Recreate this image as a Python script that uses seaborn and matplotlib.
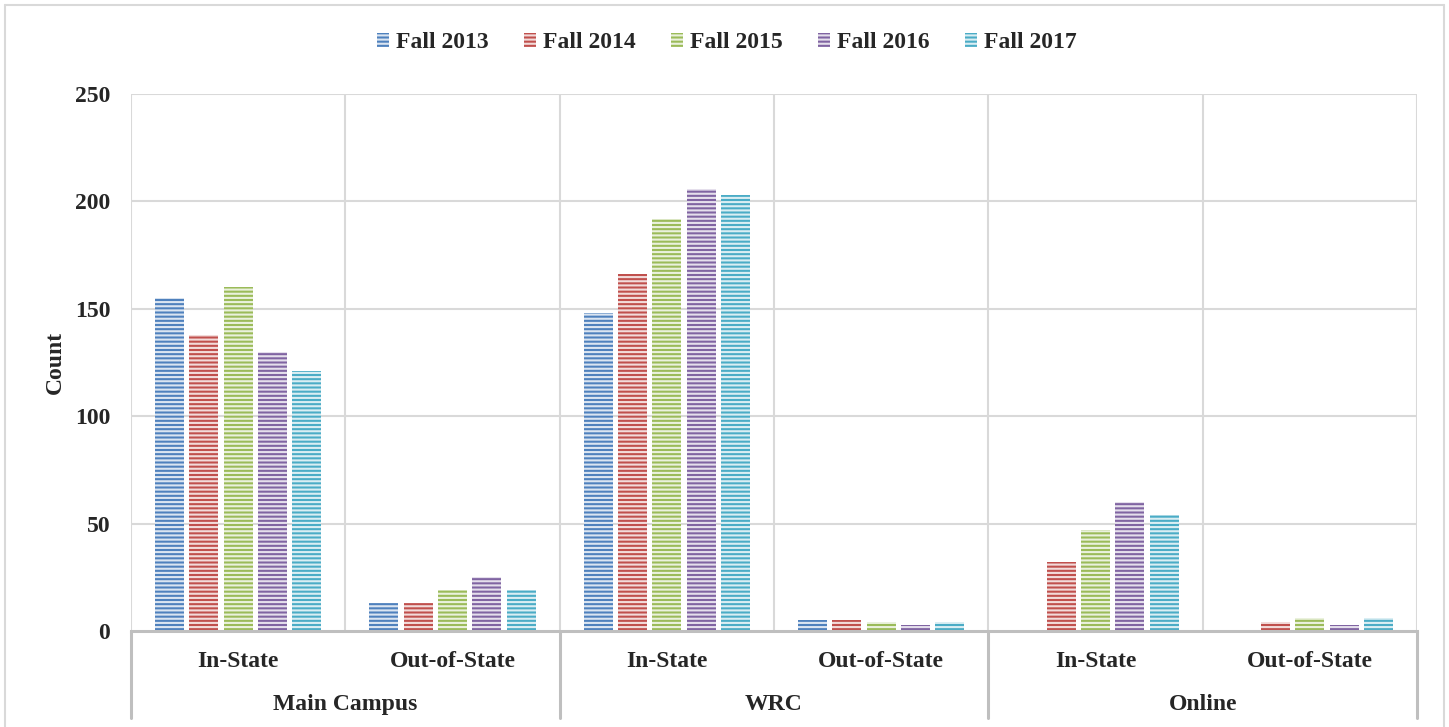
import numpy as np
import pandas as pd
import seaborn as sns
import matplotlib.pyplot as plt
from matplotlib.patches import Patch
from matplotlib.lines import Line2D
import matplotlib.transforms as mtransforms

# Enrollment counts by campus / residency and fall term
campuses = ["Main Campus", "WRC", "Online"]
residency = ["In-State", "Out-of-State"]
years = ["Fall 2013", "Fall 2014", "Fall 2015", "Fall 2016", "Fall 2017"]

main_in = [155, 138, 160, 130, 121]
main_out = [13, 13, 19, 25, 19]
wrc_in = [148, 166, 192, 206, 203]
wrc_out = [5, 5, 4, 3, 4]
online_in = [0, 32, 47, 60, 54]
online_out = [0, 4, 6, 3, 6]

yticks = [0, 50, 100, 150, 200, 250]
colors = ["#4F81BD", "#C0504D", "#9BBB59", "#8064A2", "#4BACC6"]

series = [main_in, main_out, wrc_in, wrc_out, online_in, online_out]
cat_labels = [f"{c}|{r}" for c in campuses for r in residency]
rows = []
for lab, vals in zip(cat_labels, series):
    for yr, v in zip(years, vals):
        rows.append({"cat": lab, "year": yr, "count": v})
df = pd.DataFrame(rows)

sns.set_theme(style="white")
plt.rcParams["font.family"] = ["Liberation Serif", "DejaVu Serif"]
plt.rcParams["font.weight"] = "bold"
plt.rcParams["hatch.linewidth"] = 1.5

FS = 17

fig = plt.figure(figsize=(14.49, 7.27), dpi=100)
ax = fig.add_axes([131 / 1449, 1 - 631 / 727, (1417 - 131) / 1449, (631 - 94) / 727])

sns.barplot(data=df, x="cat", y="count", hue="year", order=cat_labels,
            hue_order=years, palette=colors, saturation=1, width=0.8, gap=0.15,
            legend=False, ax=ax, zorder=3)

for p in ax.patches:
    p.set_hatch("----")
    p.set_edgecolor((1, 1, 1, 0.8))
    p.set_linewidth(0)

ax.set_ylim(0, 250)
ax.set_xlim(-0.5, len(cat_labels) - 0.5)
ax.set_yticks(yticks)
ax.set_yticklabels([str(t) for t in yticks], fontsize=FS, fontweight="bold")
ax.tick_params(axis="y", length=0, pad=15)
ax.set_xticks([])
ax.set_xlabel("")
ax.set_ylabel("Count", fontsize=FS, fontweight="bold", labelpad=6)

# horizontal and category-boundary gridlines
for t in yticks[1:]:
    ax.axhline(t, color="#d9d9d9", lw=1.5, zorder=1)
for xb in np.arange(-0.5, len(cat_labels), 1.0):
    ax.axvline(xb, color="#d9d9d9", lw=1.5, zorder=1)

for s in ["top", "right", "left"]:
    ax.spines[s].set_visible(False)
ax.spines["bottom"].set_color("#bfbfbf")
ax.spines["bottom"].set_linewidth(2.2)
ax.spines["bottom"].set_zorder(4)

# two-level category axis
trans = mtransforms.blended_transform_factory(ax.transData, ax.transAxes)
for i, lab in enumerate(cat_labels):
    ax.text(i, -0.057, lab.split("|")[1], transform=trans, ha="center", va="center",
            fontsize=FS, fontweight="bold")
for j, c in enumerate(campuses):
    ax.text(2 * j + 0.5, -0.137, c, transform=trans, ha="center", va="center",
            fontsize=FS, fontweight="bold")
for xb in [-0.5, 1.5, 3.5, 5.5]:
    ax.add_line(Line2D([xb, xb], [0, -0.162], transform=trans, color="#bfbfbf",
                       lw=2.2, clip_on=False))

# legend with striped square keys
handles = [Patch(facecolor=c, edgecolor=(1, 1, 1, 0.8), hatch="----", linewidth=0)
           for c in colors]
fig.legend(handles, years, loc="center", bbox_to_anchor=(727 / 1449, 1 - 43 / 727),
           ncol=5, frameon=False, handlelength=0.5, handleheight=0.55,
           handletextpad=0.3, columnspacing=1.5,
           prop={"family": "Liberation Serif", "weight": "bold", "size": FS})

# outer chart border
bc = "#d9d9d9"
x0, x1, y1 = 5 / 1449, 1444 / 1449, 1 - 5 / 727
fig.add_artist(Line2D([x0, x0], [-0.05, y1], color=bc, lw=1.5, transform=fig.transFigure))
fig.add_artist(Line2D([x1, x1], [-0.05, y1], color=bc, lw=1.5, transform=fig.transFigure))
fig.add_artist(Line2D([x0, x1], [y1, y1], color=bc, lw=1.5, transform=fig.transFigure))

fig.savefig("out.png", dpi=100, facecolor="white")
